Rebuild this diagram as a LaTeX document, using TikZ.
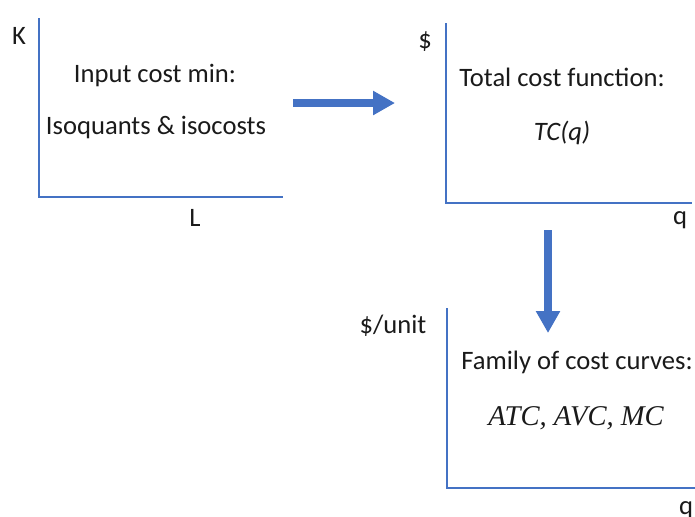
\documentclass[tikz,border=0pt]{standalone}
\usepackage{fontspec}
\setmainfont{Carlito}
\newfontfamily\tnrfont{Liberation Serif}
\usetikzlibrary{arrows.meta}
\definecolor{cstblue}{HTML}{4472C4}
\definecolor{cstink}{HTML}{1A1A1A}
\tikzset{
  ax/.style={draw=cstblue, line width=0.6pt},
  txt/.style={inner sep=0pt, text=cstink, font=\fontsize{13.3}{16}\selectfont},
  math/.style={inner sep=0pt, text=cstink, font=\fontsize{14.3}{17}\selectfont\tnrfont\itshape},
  flow/.style={-{Triangle[length=11pt, width=11.5pt]}, line width=4pt, color=cstblue},
}
\begin{document}
\begin{tikzpicture}[x=0.5pt, y=-0.5pt]
    \useasboundingbox (0,0) rectangle (695,516);
    \coordinate (o1) at (39,197);
    \coordinate (o2) at (446,203);
    \coordinate (o3) at (447,488);
    \draw[ax] (39,18) -- (o1) -- (283,197);
    \draw[ax] (446,23) -- (o2) -- (692,203);
    \draw[ax] (447,308) -- (o3) -- (695,488);
    \node[txt] (k) at (19,36) {K};
    \node[txt] (l) at (195,218) {L};
    \node[txt] (inmin) at (155,75) {Input cost min:};
    \node[txt] (iso) at (156,127) {Isoquants \& isocosts};
    \node[txt] (dol) at (425,42) {\$};
    \node[txt] (q1) at (680,220) {q};
    \node[txt] (tcf) at (562,77) {Total cost function:};
    \node[txt, font=\fontsize{13.3}{16}\selectfont\itshape] (tcq) at (562,133) {TC(q)};
    \node[txt] (unit) at (393,326) {\$/unit};
    \node[txt] (q2) at (686,510) {q};
    \node[txt] (fam) at (577,362) {Family of cost curves:};
    \node[math] (curves) at (576,418) {ATC, AVC, MC};
    \coordinate (a1s) at (293,103);
    \coordinate (a1e) at (395,103);
    \coordinate (a2s) at (548,230);
    \coordinate (a2e) at (548,333);
    \draw[flow] (a1s) -- (a1e);
    \draw[flow] (a2s) -- (a2e);
  \end{tikzpicture}
\end{document}
